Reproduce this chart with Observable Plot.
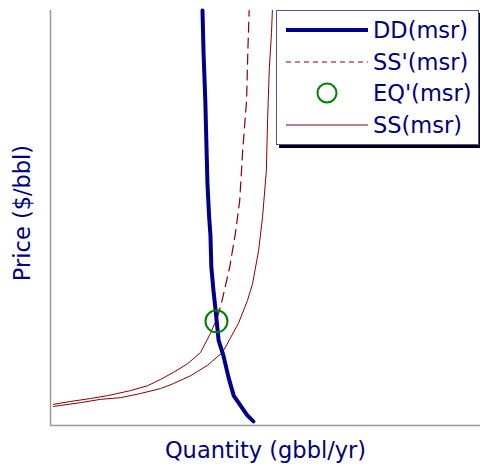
<!DOCTYPE html>
<html>
<head>
<meta charset="utf-8">
<script src="https://cdn.jsdelivr.net/npm/d3@7"></script>
<script src="https://cdn.jsdelivr.net/npm/@observablehq/plot@0.6"></script>
<style>
  html, body { margin: 0; padding: 0; background: #fff; }
  #wrap { position: relative; width: 480px; height: 465px; overflow: hidden; font-family: "DejaVu Sans", sans-serif; }
  #legend { position: absolute; left: 276px; top: 10px; width: 201px; height: 133px; border: 1.5px solid #5050b0; background: #fff; box-shadow: 3px 3px 0 #000; }
  .row { position: absolute; left: 0; height: 32px; display: flex; align-items: center; }
  .row svg { width: 96px; height: 32px; flex: none; }
  .row span { font-size: 22.5px; color: #000080; line-height: 32px; white-space: nowrap; }
</style>
</head>
<body>
<div id="wrap"></div>
<script>
// Demand curve DD(msr): quantity (x) and price (y), arbitrary units 0-100
const ddQuantity = [35.35, 35.6, 36.0, 36.3, 36.5, 36.9, 37.2, 37.4, 37.9, 38.4, 39.1, 40.2, 41.4, 42.6, 44.2, 45.8, 47.2];
const ddPrice    = [100, 89.6, 78.3, 66.3, 58.3, 50.1, 45.8, 38.3, 32.5, 27.7, 20.5, 16.9, 11.6, 7.2, 4.8, 2.4, 1.0];

// Shifted supply curve SS'(msr)
const ssPrimeQuantity = [0.7, 4.7, 9.3, 13.3, 18.6, 22.6, 25.6, 28.6, 31.9, 34.9, 37.2, 38.8, 39.9, 41.7, 43.0, 44.0, 44.7, 45.6, 45.9, 46.2];
const ssPrimePrice    = [5.1, 5.8, 6.5, 7.2, 8.4, 9.6, 11.1, 12.8, 14.9, 17.6, 22.2, 26.0, 30.1, 38.3, 46.3, 54.2, 66.3, 78.3, 90.4, 100];

// Supply curve SS(msr)
const ssQuantity = [0.7, 7.0, 11.6, 16.3, 20.9, 25.6, 28.6, 32.6, 36.5, 40.0, 43.7, 45.8, 47.0, 48.4, 49.3, 50.2, 50.5, 50.9, 51.4, 51.6];
const ssPrice    = [4.6, 5.5, 6.3, 6.7, 7.7, 8.9, 10.1, 12.0, 14.5, 17.6, 24.6, 30.1, 34.2, 42.2, 50.1, 61.4, 74.2, 86.3, 94.7, 100];

// Equilibrium EQ'(msr)
const eqQuantity = [38.6];
const eqPrice = [25.1];

const seriesNames = ["DD(msr)", "SS'(msr)", "EQ'(msr)", "SS(msr)"];
const xLabel = "Quantity (gbbl/yr)";
const yLabel = "Price ($/bbl)";

const toRows = (xs, ys) => xs.map((q, i) => ({q, p: ys[i]}));
const dd = toRows(ddQuantity, ddPrice);
const ssPrime = toRows(ssPrimeQuantity, ssPrimePrice);
const ss = toRows(ssQuantity, ssPrice);
const eq = toRows(eqQuantity, eqPrice);
const ssPrimeLow = ssPrime.filter(d => d.p <= 26.0);
const ssPrimeHigh = ssPrime.filter(d => d.p >= 26.0);

const navy = "#00008b", red = "#8b0000", green = "#008000";

const chart = Plot.plot({
  width: 480, height: 465,
  marginLeft: 50, marginRight: 0, marginTop: 10, marginBottom: 40,
  style: {fontFamily: "DejaVu Sans, sans-serif", background: "transparent"},
  x: {domain: [0, 100], axis: null},
  y: {domain: [0, 100], axis: null},
  marks: [
    Plot.ruleX([0], {stroke: "#999", strokeWidth: 1.5}),
    Plot.ruleY([0], {stroke: "#999", strokeWidth: 1.5}),
    Plot.line(ss, {x: "q", y: "p", stroke: red, strokeWidth: 1}),
    Plot.line(ssPrimeLow, {x: "q", y: "p", stroke: red, strokeWidth: 1}),
    Plot.line(ssPrimeHigh, {x: "q", y: "p", stroke: red, strokeWidth: 1.2, strokeDasharray: "10,6"}),
    Plot.line(dd, {x: "q", y: "p", stroke: navy, strokeWidth: 4}),
    Plot.dot(eq, {x: "q", y: "p", r: 11, stroke: green, strokeWidth: 2, fill: "none"}),
    Plot.text([xLabel], {frameAnchor: "bottom", lineAnchor: "bottom", dy: 32, fontSize: 22.5, fill: "#000080", text: d => d}),
    Plot.text([yLabel], {frameAnchor: "left", textAnchor: "middle", lineAnchor: "bottom", rotate: -90, dx: -21, dy: -5, fontSize: 22.5, fill: "#000080", text: d => d})
  ]
});

const wrap = document.getElementById("wrap");
wrap.appendChild(chart);

// Legend
const legend = document.createElement("div");
legend.id = "legend";
const symbols = [
  `<line x1="9" x2="91" y1="16" y2="16" stroke="${navy}" stroke-width="4"/>`,
  `<line x1="9" x2="91" y1="16" y2="16" stroke="${red}" stroke-width="1.2" stroke-dasharray="5,4"/>`,
  `<circle cx="50" cy="16" r="9.5" fill="none" stroke="${green}" stroke-width="2"/>`,
  `<line x1="9" x2="91" y1="16" y2="16" stroke="${red}" stroke-width="1"/>`
];
seriesNames.forEach((name, i) => {
  const row = document.createElement("div");
  row.className = "row";
  row.style.top = (3 + 31.5 * i) + "px";
  row.innerHTML = `<svg viewBox="0 0 96 32">${symbols[i]}</svg><span></span>`;
  row.querySelector("span").textContent = name;
  legend.appendChild(row);
});
wrap.appendChild(legend);
</script>
</body>
</html>
